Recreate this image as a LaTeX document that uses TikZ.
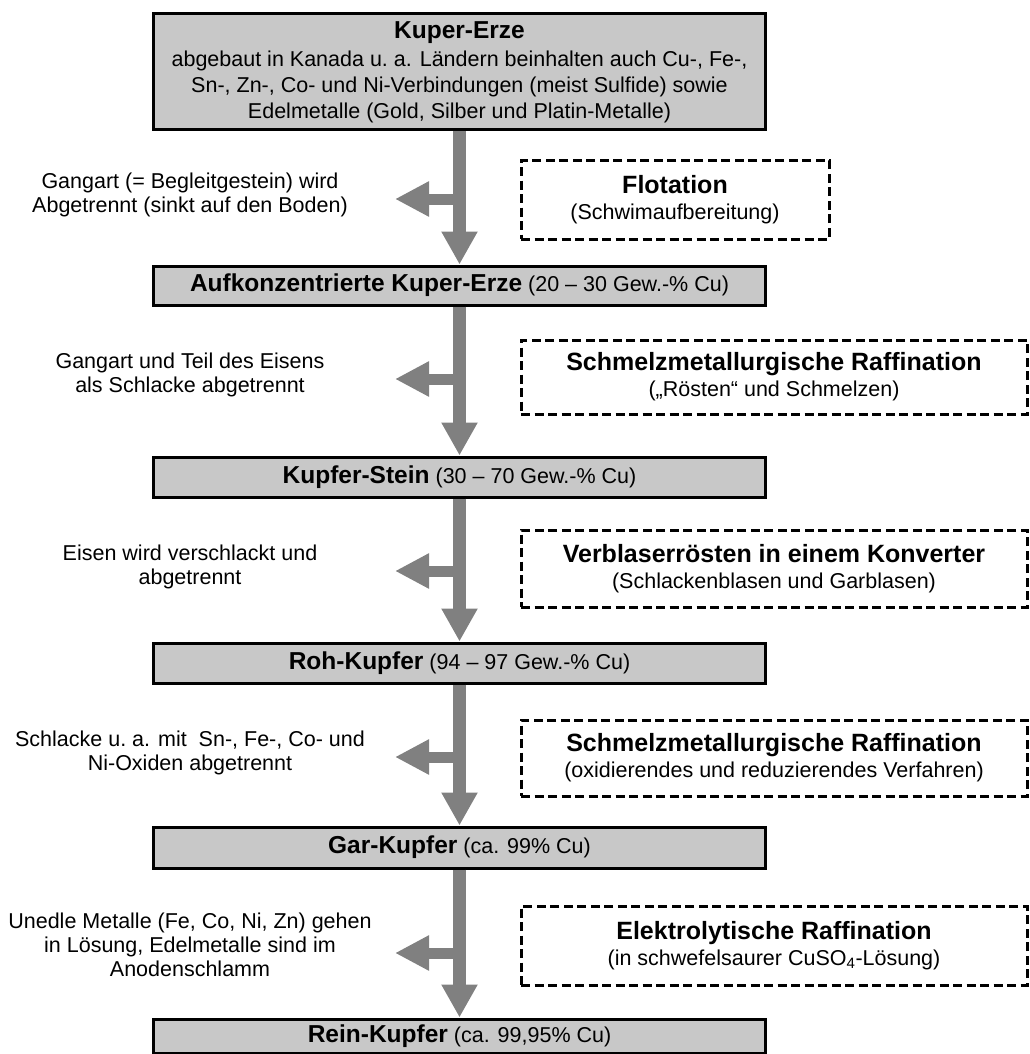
\documentclass[tikz,border=0pt]{standalone}
\usepackage{fontspec}
\setmainfont{Liberation Sans}
\usetikzlibrary{arrows.meta,calc}
\definecolor{boxgray}{RGB}{200,200,200}
\definecolor{arrgray}{RGB}{128,128,128}
\newcommand\hdtxt[1]{{\fontsize{24.5}{26}\selectfont\bfseries #1}}
\newcommand\prtxt[1]{{\fontsize{25}{27}\selectfont\bfseries #1}}
\begin{document}
\begin{tikzpicture}[x=1pt,y=-1pt,
  mainbox/.style={draw=black, line width=3pt, fill=boxgray, minimum width=612pt, align=center, inner sep=0pt, font=\fontsize{21.5}{26}\selectfont},
  procbox/.style={draw=black, line width=3pt, dash pattern=on 9pt off 4.5pt, align=center, inner sep=0pt, font=\fontsize{21.5}{24}\selectfont},
  sidetext/.style={align=center, font=\fontsize{21.5}{24}\selectfont},
  flow/.style={draw=arrgray, line width=13pt, -{Triangle[width=34pt,length=33pt]}},
  branch/.style={draw=arrgray, line width=11pt, -{Triangle[width=33pt,length=34pt]}}
]
\useasboundingbox (0,0) rectangle (1029,1054);

% main boxes
\node[mainbox, minimum height=116pt] (b1) at (459.5,72) {\hdtxt{Kuper-Erze}\\[2pt]abgebaut in Kanada u.\ a. Ländern beinhalten auch Cu-, Fe-,\\Sn-, Zn-, Co- und Ni-Verbindungen (meist Sulfide) sowie\\Edelmetalle (Gold, Silber und Platin-Metalle)};
\node[mainbox, minimum height=39pt] (b2) at (459.5,285.5) {\hdtxt{Aufkonzentrierte Kuper-Erze} (20 – 30 Gew.-\% Cu)};
\node[mainbox, minimum height=40pt] (b3) at (459.5,477) {\hdtxt{Kupfer-Stein} (30 – 70 Gew.-\% Cu)};
\node[mainbox, minimum height=40pt] (b4) at (459.5,663) {\hdtxt{Roh-Kupfer} (94 – 97 Gew.-\% Cu)};
\node[mainbox, minimum height=41pt] (b5) at (459.5,847.5) {\hdtxt{Gar-Kupfer} (ca. 99\% Cu)};
\node[mainbox, minimum height=34pt] (b6) at (459.5,1036) {\hdtxt{Rein-Kupfer} (ca. 99,95\% Cu)};

% branch tips
\coordinate (s1) at (395,199);
\coordinate (s2) at (395,379);
\coordinate (s3) at (395,571);
\coordinate (s4) at (395,757);
\coordinate (s5) at (395,953);

% arrows
\draw[flow] (b1.south) -- (b2.north);
\draw[flow] (b2.south) -- (b3.north);
\draw[flow] (b3.south) -- (b4.north);
\draw[flow] (b4.south) -- (b5.north);
\draw[flow] (b5.south) -- (b6.north);
\draw[branch] (b1.south |- s1) -- (s1);
\draw[branch] (b2.south |- s2) -- (s2);
\draw[branch] (b3.south |- s3) -- (s3);
\draw[branch] (b4.south |- s4) -- (s4);
\draw[branch] (b5.south |- s5) -- (s5);

% side texts
\node[sidetext] (t1) at (190,195) {Gangart (= Begleitgestein) wird\\Abgetrennt (sinkt auf den Boden)};
\node[sidetext] (t2) at (190,375) {Gangart und Teil des Eisens\\als Schlacke abgetrennt};
\node[sidetext] (t3) at (190,567) {Eisen wird verschlackt und\\abgetrennt};
\node[sidetext] (t4) at (190,753) {Schlacke u.\ a. mit\ \ Sn-, Fe-, Co- und\\Ni-Oxiden abgetrennt};
\node[sidetext] (t5) at (190,945) {Unedle Metalle (Fe, Co, Ni, Zn) gehen\\in Lösung, Edelmetalle sind im\\Anodenschlamm};

% process boxes
\node[procbox, minimum width=308pt, minimum height=79pt] (p1) at (675,199.5) {\prtxt{Flotation}\\[2pt](Schwimaufbereitung)};
\node[procbox, minimum width=506pt, minimum height=74pt] (p2) at (774,377) {\prtxt{Schmelzmetallurgische Raffination}\\[2pt](„Rösten“ und Schmelzen)};
\node[procbox, minimum width=506pt, minimum height=77pt] (p3) at (774,568.5) {\prtxt{Verblaserrösten in einem Konverter}\\[2pt](Schlackenblasen und Garblasen)};
\node[procbox, minimum width=506pt, minimum height=76pt] (p4) at (774,758) {\prtxt{Schmelzmetallurgische Raffination}\\[2pt](oxidierendes und reduzierendes Verfahren)};
\node[procbox, minimum width=506pt, minimum height=79pt] (p5) at (774,945.5) {\prtxt{Elektrolytische Raffination}\\[2pt](in schwefelsaurer CuSO\textsubscript{4}-Lösung)};
\end{tikzpicture}
\end{document}
